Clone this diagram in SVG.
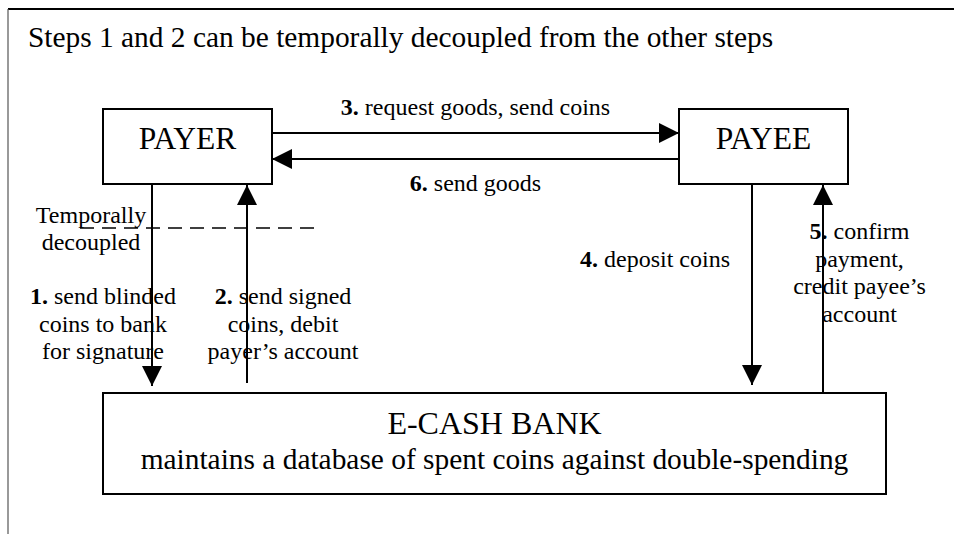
<svg xmlns="http://www.w3.org/2000/svg" width="954" height="534" viewBox="0 0 954 534" font-family="'Liberation Serif', 'Times New Roman', 'DejaVu Serif', serif">
<style>
text{font-family:'Liberation Serif','Times New Roman','DejaVu Serif',serif;fill:#000}
.lbl{font-size:24px;text-anchor:middle}
.node{fill:#fff;stroke:#000;stroke-width:2}
.big{font-size:31.5px;text-anchor:middle}
.conn{stroke:#000;stroke-width:2;fill:none}
.b{font-weight:bold}
</style>
<defs>
<marker id="ah" markerUnits="userSpaceOnUse" markerWidth="20" markerHeight="20" viewBox="0 0 20 20" refX="20" refY="10" orient="auto">
<path d="M0,0 L20,10 L0,20 Z" fill="#000"/>
</marker>
</defs>
<rect x="0" y="0" width="954" height="534" fill="#fff"/>
<g id="frame">
<line x1="8" y1="9" x2="954" y2="9" stroke="#000" stroke-width="2"/>
<line x1="8" y1="9" x2="8" y2="534" stroke="#555" stroke-width="1.2"/>
</g>
<text id="title" x="28" y="47" font-size="29.4">Steps 1 and 2 can be temporally decoupled from the other steps</text>
<g id="payer">
<rect class="node" x="103" y="109" width="169" height="75"/>
<text class="big" x="187.5" y="149">PAYER</text>
</g>
<g id="payee">
<rect class="node" x="679" y="109" width="169" height="75"/>
<text class="big" x="763.5" y="149">PAYEE</text>
</g>
<g id="bank">
<rect class="node" x="103" y="393" width="783" height="101"/>
<text x="494.5" y="434" font-size="32" text-anchor="middle">E-CASH BANK</text>
<text x="494.5" y="469" font-size="29.4" text-anchor="middle">maintains a database of spent coins against double-spending</text>
</g>
<g id="decoupling">
<line x1="80" y1="228" x2="320" y2="228" stroke="#000" stroke-width="1.5" stroke-dasharray="14,8"/>
<text class="lbl" x="91" y="223">Temporally</text>
<text class="lbl" x="91" y="250">decoupled</text>
</g>
<g id="connectors">
<line class="conn" x1="272" y1="133" x2="679" y2="133" marker-end="url(#ah)"/>
<line class="conn" x1="679" y1="159" x2="272" y2="159" marker-end="url(#ah)"/>
<line class="conn" x1="152" y1="184" x2="152" y2="386" marker-end="url(#ah)"/>
<line class="conn" x1="247" y1="383" x2="247" y2="185" marker-end="url(#ah)"/>
<line class="conn" x1="752" y1="184" x2="752" y2="385" marker-end="url(#ah)"/>
<line class="conn" x1="823" y1="392" x2="823" y2="185" marker-end="url(#ah)"/>
</g>
<g id="labels">
<text class="lbl" x="475.5" y="115"><tspan class="b">3.</tspan> request goods, send coins</text>
<text class="lbl" x="475.5" y="191"><tspan class="b">6.</tspan> send goods</text>
<text class="lbl" x="103" y="304"><tspan class="b">1.</tspan> send blinded</text>
<text class="lbl" x="103" y="332">coins to bank</text>
<text class="lbl" x="103" y="359">for signature</text>
<text class="lbl" x="283" y="304"><tspan class="b">2.</tspan> send signed</text>
<text class="lbl" x="283" y="332">coins, debit</text>
<text class="lbl" x="283" y="359">payer’s account</text>
<text class="lbl" x="655" y="267"><tspan class="b">4.</tspan> deposit coins</text>
<text class="lbl" x="859.5" y="239"><tspan class="b">5.</tspan> confirm</text>
<text class="lbl" x="859.5" y="267">payment,</text>
<text class="lbl" x="859.5" y="294">credit payee’s</text>
<text class="lbl" x="859.5" y="322">account</text>
</g>
</svg>
